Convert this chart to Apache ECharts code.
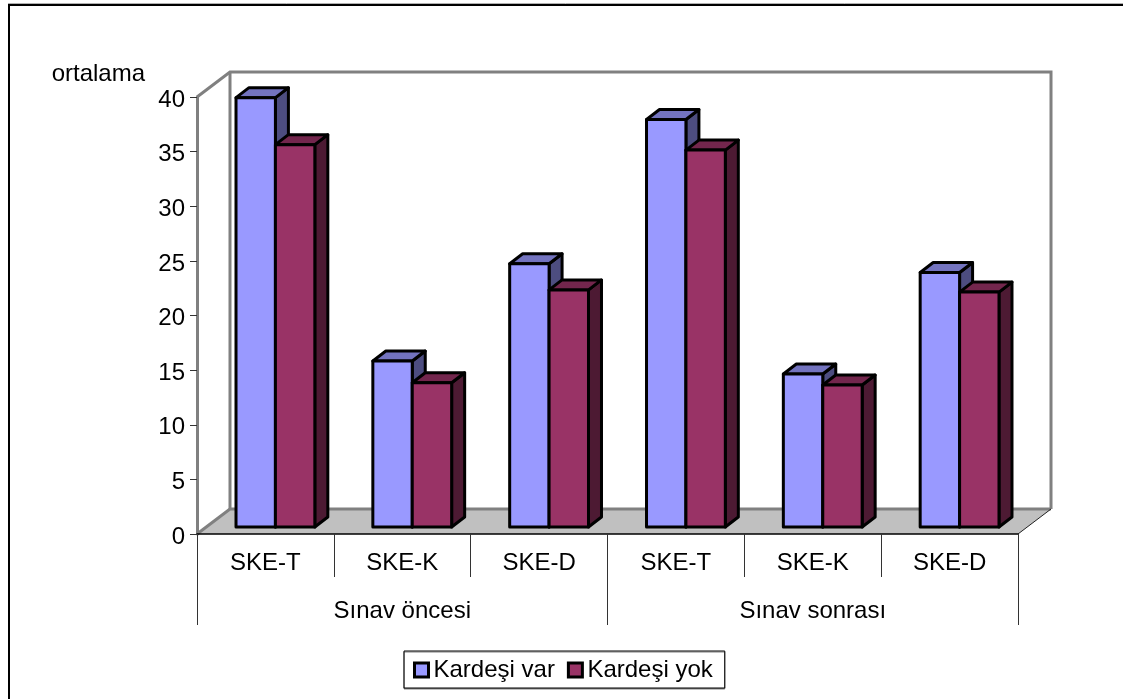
<!DOCTYPE html>
<html>
<head>
<meta charset="utf-8">
<style>html,body{margin:0;padding:0;background:#fff}#chart{width:1123px;height:699px}</style>
<script src="https://cdn.jsdelivr.net/npm/echarts@6/dist/echarts.min.js"></script>
</head>
<body>
<div id="chart"></div>
<script>
const examCategories = ['SKE-T', 'SKE-K', 'SKE-D', 'SKE-T', 'SKE-K', 'SKE-D'];
const periodCategories = ['Sınav öncesi', 'Sınav sonrası'];
const yAxisTicks = { min: 0, max: 40, interval: 5 };
const siblingsYes = [39.3, 15.2, 24.1, 37.3, 14.0, 23.3];
const siblingsNo = [35.0, 13.2, 21.7, 34.5, 13.0, 21.5];

const FONT = '"Liberation Sans", Arial, sans-serif';
const TEXT_SIZE = 24;
// Oblique projection of the 3D box: the room and each bar recede up and to the right.
const ROOM_DEPTH = [33, -25];
const BAR_DEPTH = [13, -10];
const BAR_INSET = [10, -7];
const BAR_BAND_SHARE = 0.288;

function barRenderer(seriesPos, front, top, side) {
  return function (params, api) {
    const value = api.value(1);
    const band = api.size([1, 0])[0];
    const w = band * BAR_BAND_SHARE;
    const base = api.coord([api.value(0), 0]);
    const peak = api.coord([api.value(0), value]);
    const x0 = base[0] + BAR_INSET[0] + (seriesPos - 1) * w;
    const x1 = x0 + w;
    const yb = base[1] + BAR_INSET[1];
    const yt = peak[1] + BAR_INSET[1];
    const dx = BAR_DEPTH[0], dy = BAR_DEPTH[1];
    const stroke = { stroke: '#000', lineWidth: 3, lineJoin: 'round' };
    return {
      type: 'group',
      children: [
        { type: 'polygon', shape: { points: [[x1, yb], [x1 + dx, yb + dy], [x1 + dx, yt + dy], [x1, yt]] }, style: { fill: side, ...stroke } },
        { type: 'polygon', shape: { points: [[x0, yt], [x0 + dx, yt + dy], [x1 + dx, yt + dy], [x1, yt]] }, style: { fill: top, ...stroke } },
        { type: 'rect', shape: { x: x0, y: yt, width: w, height: yb - yt }, style: { fill: front, ...stroke } }
      ]
    };
  };
}

function roomRenderer(params) {
  const g = params.coordSys;
  const dx = ROOM_DEPTH[0], dy = ROOM_DEPTH[1];
  const l = g.x, r = g.x + g.width, t = g.y, b = g.y + g.height;
  const wall = { stroke: '#808080', lineWidth: 3, fill: null };
  return {
    type: 'group',
    children: [
      { type: 'polygon', shape: { points: [[l, b], [l + dx, b + dy], [r + dx, b + dy], [r, b]] }, style: { fill: '#c0c0c0' } },
      { type: 'polyline', shape: { points: [[l, b], [l + dx, b + dy], [r + dx, b + dy]] }, style: wall },
      { type: 'polyline', shape: { points: [[l, t], [l + dx, t + dy], [r + dx, t + dy], [r + dx, b + dy]] }, style: wall },
      { type: 'line', shape: { x1: l + dx, y1: t + dy, x2: l + dx, y2: b + dy }, style: wall },
      { type: 'line', shape: { x1: r + dx, y1: b + dy, x2: r, y2: b }, style: { stroke: '#222', lineWidth: 1 } }
    ]
  };
}

const chart = echarts.init(document.getElementById('chart'), null, { renderer: 'canvas' });
chart.setOption({
  animation: false,
  backgroundColor: '#fff',
  textStyle: { fontFamily: FONT, color: '#000' },
  graphic: [
    { type: 'line', z: -10, shape: { x1: 8, y1: 3.5, x2: 1123, y2: 3.5 }, style: { stroke: '#b0b0b0', lineWidth: 1 } },
    { type: 'rect', z: -10, shape: { x: 9, y: 5, width: 1200, height: 800 }, style: { fill: '#fff', stroke: '#000', lineWidth: 2 } }
  ],
  grid: { left: 197, right: 105, top: 97, bottom: 165, containLabel: false },
  legend: {
    left: 404, top: 651,
    padding: [7, 12, 6, 9], itemGap: 12, itemWidth: 14, itemHeight: 14,
    icon: 'rect', backgroundColor: '#fff', borderColor: '#000', borderWidth: 1,
    shadowColor: '#808080', shadowBlur: 0, shadowOffsetX: 0, shadowOffsetY: 1,
    textStyle: { fontFamily: FONT, fontSize: TEXT_SIZE, color: '#000', padding: [3, 0, 0, 0] },
    itemStyle: { borderColor: '#000', borderWidth: 3 },
    data: ['Kardeşi var', 'Kardeşi yok']
  },
  xAxis: [
    {
      type: 'category', data: examCategories, position: 'bottom',
      axisLine: { show: true, onZero: false, lineStyle: { color: '#000', width: 1.5 } },
      axisTick: { show: true, length: 43, alignWithLabel: false, lineStyle: { color: '#333' } },
      axisLabel: { color: '#000', fontSize: TEXT_SIZE, fontFamily: FONT, margin: 17 }
    },
    {
      type: 'category', data: periodCategories, position: 'bottom',
      axisLine: { show: false },
      axisTick: { show: true, length: 91, lineStyle: { color: '#333' } },
      axisLabel: { color: '#000', fontSize: TEXT_SIZE, fontFamily: FONT, margin: 65 }
    }
  ],
  yAxis: {
    type: 'value', min: yAxisTicks.min, max: yAxisTicks.max, interval: yAxisTicks.interval,
    name: 'ortalama', nameLocation: 'end', nameGap: 11,
    nameTextStyle: { fontFamily: FONT, fontSize: TEXT_SIZE, color: '#000', align: 'right', padding: [0, 52, 0, 0] },
    axisLine: { show: true, lineStyle: { color: '#808080', width: 3 } },
    axisTick: { show: true, length: 7, lineStyle: { color: '#333' } },
    axisLabel: { color: '#000', fontSize: TEXT_SIZE, fontFamily: FONT, margin: 12, verticalAlign: 'top', lineHeight: 6 },
    splitLine: { show: false }
  },
  series: [
    { type: 'custom', name: 'room', z: -1, silent: true, coordinateSystem: 'cartesian2d', renderItem: roomRenderer, data: [[0, 0]], encode: { x: 0, y: 1 } },
    {
      type: 'custom', name: 'Kardeşi var', z: 2, coordinateSystem: 'cartesian2d',
      itemStyle: { color: '#9999ff' },
      renderItem: barRenderer(0, '#9999ff', '#7373bf', '#4d4d80'),
      data: siblingsYes.map((v, i) => [i, v]), encode: { x: 0, y: 1 }
    },
    {
      type: 'custom', name: 'Kardeşi yok', z: 3, coordinateSystem: 'cartesian2d',
      itemStyle: { color: '#993366' },
      renderItem: barRenderer(1, '#993366', '#73264d', '#4d1a33'),
      data: siblingsNo.map((v, i) => [i, v]), encode: { x: 0, y: 1 }
    }
  ]
});
</script>
</body>
</html>
